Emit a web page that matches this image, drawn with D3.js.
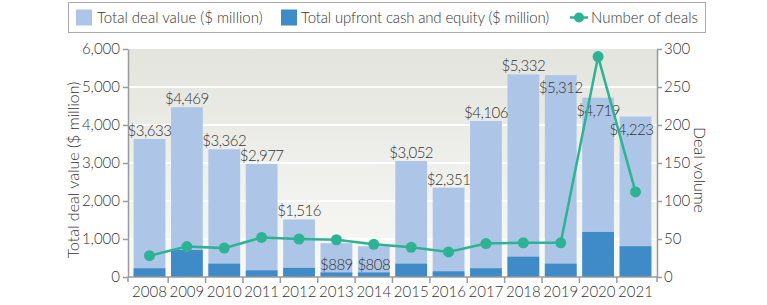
<!DOCTYPE html>
<html lang="en">
<head>
<meta charset="utf-8">
<title>Deal value and volume</title>
<script src="https://d3js.org/d3.v7.min.js" charset="utf-8"></script>
<style>
  body { margin: 0; background: #fff; }
  text { font-family: "Lato", "Open Sans", sans-serif; font-weight: 300; fill: #333; }
</style>
</head>
<body>
<script type="text/javascript">

 //Chart data
 var years = ["2008", "2009", "2010", "2011", "2012", "2013", "2014",
              "2015", "2016", "2017", "2018", "2019", "2020", "2021"];
 var totalValue = [3633, 4469, 3362, 2977, 1516, 889, 808,
                   3052, 2351, 4106, 5332, 5312, 4719, 4223];
 var upfrontValue = [230, 710, 350, 175, 240, 120, 120,
                     350, 150, 230, 535, 350, 1185, 810];
 var dealCount = [28, 40, 38, 52, 50, 49, 43,
                  39, 33, 44, 45, 45, 290, 112];
 var leftTicks = [0, 1000, 2000, 3000, 4000, 5000, 6000];
 var rightTicks = [0, 50, 100, 150, 200, 250, 300];
 var legendLabels = ["Total deal value ($ million)",
                     "Total upfront cash and equity ($ million)",
                     "Number of deals"];

 //Display specifications
 var width = 767, height = 305;
 var plot = {left: 128, right: 657, top: 49, bottom: 277};
 var lightBlue = "#adc6e7", darkBlue = "#3f8bc7", teal = "#2db394";

 var svg = d3.select("body").append("svg")
             .attr("width", width)
             .attr("height", height);

 var xScale = d3.scaleBand()
                .domain(years)
                .range([plot.left, plot.right])
                .padding(0.15);

 var yScale = d3.scaleLinear()
                .domain([0, 6000])
                .range([plot.bottom, plot.top]);

 var yRight = d3.scaleLinear()
                .domain([0, 300])
                .range([plot.bottom, plot.top]);

 //Background gradient
 var grad = svg.append("defs").append("linearGradient")
               .attr("id", "bg")
               .attr("x1", 0).attr("y1", 0).attr("x2", 0).attr("y2", 1);
 grad.append("stop").attr("offset", "0%").attr("stop-color", "#e4e4de");
 grad.append("stop").attr("offset", "100%").attr("stop-color", "#f9f9f7");

 svg.append("rect")
    .attr("x", plot.left)
    .attr("y", plot.top)
    .attr("width", plot.right - plot.left)
    .attr("height", plot.bottom - plot.top)
    .attr("fill", "url(#bg)");

 //White gridlines
 svg.selectAll(".grid")
    .data(leftTicks.slice(1, -1))
    .enter()
    .append("line")
    .attr("class", "grid")
    .attr("x1", plot.left)
    .attr("x2", plot.right)
    .attr("y1", function (d) { return yScale(d); })
    .attr("y2", function (d) { return yScale(d); })
    .attr("stroke", "#fff")
    .attr("stroke-width", 2);

 //Bars
 svg.selectAll(".total")
    .data(years)
    .enter()
    .append("rect")
    .attr("class", "total")
    .attr("x", function (d) { return xScale(d); })
    .attr("y", function (d, i) { return yScale(totalValue[i]); })
    .attr("width", xScale.bandwidth())
    .attr("height", function (d, i) { return yScale(0) - yScale(totalValue[i]); })
    .attr("fill", lightBlue);

 svg.selectAll(".upfront")
    .data(years)
    .enter()
    .append("rect")
    .attr("class", "upfront")
    .attr("x", function (d) { return xScale(d); })
    .attr("y", function (d, i) { return yScale(upfrontValue[i]); })
    .attr("width", xScale.bandwidth())
    .attr("height", function (d, i) { return yScale(0) - yScale(upfrontValue[i]); })
    .attr("fill", darkBlue);

 //Axes
 var leftAxis = svg.append("g")
                   .attr("transform", "translate(" + plot.left + ",0)")
                   .call(d3.axisLeft(yScale).tickValues(leftTicks)
                           .tickSize(5).tickSizeOuter(0).tickFormat(d3.format(",")));

 var rightAxis = svg.append("g")
                    .attr("transform", "translate(" + plot.right + ",0)")
                    .call(d3.axisRight(yRight).tickValues(rightTicks)
                            .tickSize(5).tickSizeOuter(0));

 [leftAxis, rightAxis].forEach(function (g) {
     g.select(".domain").attr("stroke", "#9a9a9a").attr("stroke-width", 1.5);
     g.selectAll(".tick line").attr("stroke", "#9a9a9a").attr("stroke-width", 1.5);
     g.selectAll(".tick text").attr("font-size", 15).attr("fill", "#333")
      .style("font-family", "Lato, 'Open Sans', sans-serif");
 });
 rightAxis.selectAll(".tick text").attr("x", 7);

 //Extend vertical axes a bit below zero
 [plot.left, plot.right].forEach(function (x) {
     svg.append("line")
        .attr("x1", x).attr("x2", x)
        .attr("y1", plot.bottom).attr("y2", plot.bottom + 5)
        .attr("stroke", "#9a9a9a").attr("stroke-width", 1.5);
 });

 //Baseline and year ticks at band edges
 svg.append("line")
    .attr("x1", plot.left).attr("x2", plot.right)
    .attr("y1", plot.bottom).attr("y2", plot.bottom)
    .attr("stroke", "#9a9a9a").attr("stroke-width", 1.5);

 var halfGap = xScale.step() * xScale.paddingInner() / 2;
 svg.selectAll(".xtick")
    .data(years.slice(1))
    .enter()
    .append("line")
    .attr("class", "xtick")
    .attr("x1", function (d) { return xScale(d) - halfGap; })
    .attr("x2", function (d) { return xScale(d) - halfGap; })
    .attr("y1", plot.bottom)
    .attr("y2", plot.bottom + 6)
    .attr("stroke", "#9a9a9a").attr("stroke-width", 1.5);

 svg.selectAll(".year")
    .data(years)
    .enter()
    .append("text")
    .attr("class", "year")
    .attr("x", function (d) { return xScale(d) + xScale.bandwidth() / 2; })
    .attr("y", 297)
    .attr("text-anchor", "middle")
    .attr("font-size", 15)
    .text(function (d) { return d; });

 //Value labels
 var insideYears = ["2019", "2020", "2021"];
 var bottomYears = ["2013", "2014"];
 svg.selectAll(".vlabel")
    .data(years)
    .enter()
    .append("text")
    .attr("class", "vlabel")
    .attr("x", function (d) { return xScale(d) + xScale.bandwidth() / 2 - (d === "2021" ? 4 : 0); })
    .attr("y", function (d, i) {
        if (bottomYears.indexOf(d) >= 0) return plot.bottom - 7;
        if (insideYears.indexOf(d) >= 0) return yScale(totalValue[i]) + 18;
        return yScale(totalValue[i]) - 3;
    })
    .attr("text-anchor", "middle")
    .attr("font-size", 15)
    .attr("letter-spacing", -0.5)
    .text(function (d, i) { return "$" + d3.format(",")(totalValue[i]); });

 //Deal count line
 var line = d3.line()
              .x(function (d, i) { return xScale(years[i]) + xScale.bandwidth() / 2; })
              .y(function (d) { return yRight(d); });

 svg.append("path")
    .datum(dealCount)
    .attr("d", line)
    .attr("fill", "none")
    .attr("stroke", teal)
    .attr("stroke-width", 2.5);

 svg.selectAll(".dot")
    .data(dealCount)
    .enter()
    .append("circle")
    .attr("class", "dot")
    .attr("cx", function (d, i) { return xScale(years[i]) + xScale.bandwidth() / 2; })
    .attr("cy", function (d) { return yRight(d); })
    .attr("r", 5.5)
    .attr("fill", teal);

 //Axis titles
 svg.append("text")
    .attr("transform", "translate(79,170) rotate(-90)")
    .attr("text-anchor", "middle")
    .attr("font-size", 16)
    .text("Total deal value ($ million)");

 svg.append("text")
    .attr("transform", "translate(694,170) rotate(90)")
    .attr("text-anchor", "middle")
    .attr("font-size", 16)
    .text("Deal volume");

 //Legend
 var legend = svg.append("g");
 legend.append("rect")
       .attr("x", 68.5).attr("y", 2.5)
       .attr("width", 637).attr("height", 30)
       .attr("fill", "#fff")
       .attr("stroke", "#aaa")
       .attr("stroke-width", 1);

 legend.append("rect").attr("x", 76).attr("y", 9.5).attr("width", 16).attr("height", 16).attr("fill", lightBlue);
 legend.append("rect").attr("x", 281).attr("y", 9.5).attr("width", 16).attr("height", 16).attr("fill", darkBlue);
 legend.append("line").attr("x1", 570).attr("x2", 588).attr("y1", 17.5).attr("y2", 17.5)
       .attr("stroke", teal).attr("stroke-width", 2.5);
 legend.append("circle").attr("cx", 579).attr("cy", 17.5).attr("r", 5).attr("fill", teal);

 legend.selectAll(".ltext")
       .data(legendLabels)
       .enter()
       .append("text")
       .attr("class", "ltext")
       .attr("x", function (d, i) { return [97, 301, 591][i]; })
       .attr("y", 23)
       .attr("font-size", 15)
       .attr("letter-spacing", function (d, i) { return i === 1 ? -0.15 : 0; })
       .text(function (d) { return d; });

</script>
</body>
</html>
